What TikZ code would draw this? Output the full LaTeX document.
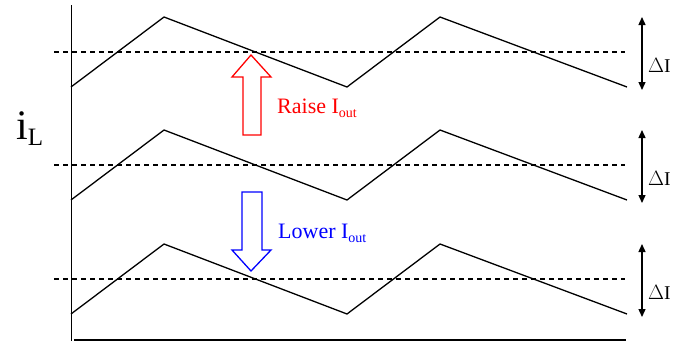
\documentclass[tikz,border=0pt]{standalone}
\usepackage{fontspec}
\setmainfont{Liberation Serif}
\usetikzlibrary{arrows.meta}
\begin{document}
\begin{tikzpicture}[x=1pt,y=-1pt,
  wave/.style={line width=1.3pt,black},
  midline/.style={line width=1.1pt,dash pattern=on 5pt off 4pt},
  axisline/.style={line width=1.5pt},
  darrow/.style={line width=1.4pt,{Triangle[length=8pt,width=7pt]}-{Triangle[length=8pt,width=7pt]}},
  dlabel/.style={font=\fontsize{19.5}{21}\selectfont,anchor=west,inner sep=0pt},
  blockarrow/.style={line width=1.3pt,line join=miter}
]
\useasboundingbox (0,0) rectangle (683,343);
% axes
\coordinate (axtop) at (71.5,5);
\coordinate (axorig) at (71.5,341);
\coordinate (axbl) at (74,340);
\coordinate (axright) at (626,340);
\draw[axisline] (axtop) -- (axorig);
\draw[axisline] (axbl) -- (axright);
% waveforms
\foreach \dy/\n in {0/a,113/b,227/c}{
  \draw[midline] (54,52+\dy) -- (625,52+\dy);
  \draw[wave] (71,87+\dy) -- (164,17+\dy) -- (347,87+\dy) -- (440,17+\dy) -- (627,87+\dy);
}
% Delta I arrows
\foreach \dy/\n in {0/a,113/b,227/c}{
  \coordinate (dt\n) at (642,17+\dy);
  \coordinate (db\n) at (642,90+\dy);
  \draw[darrow] (dt\n) -- (db\n);
  \node[dlabel] (dl\n) at (648,65+\dy) {$\Delta$I};
}
% iL label
\node[inner sep=0pt,anchor=base west] (il) at (16,139) {\fontsize{42}{44}\selectfont i\raisebox{-6pt}{\fontsize{25}{27}\selectfont L}};
% Raise arrow
\draw[blockarrow,red] (243,135) -- (243,77) -- (232,77) -- (251,55) -- (271,77) -- (261,77) -- (261,135) -- cycle;
\node[red,inner sep=0pt,anchor=base west] (raise) at (277,113) {\fontsize{22}{24}\selectfont Raise I\raisebox{-4pt}{\fontsize{14}{15}\selectfont out}};
% Lower arrow
\draw[blockarrow,blue] (242,192) -- (262,192) -- (262,250) -- (271,250) -- (251,271) -- (232,250) -- (242,250) -- cycle;
\node[blue,inner sep=0pt,anchor=base west] (lower) at (278,238) {\fontsize{22}{24}\selectfont Lower I\raisebox{-4pt}{\fontsize{14}{15}\selectfont out}};
\end{tikzpicture}
\end{document}
